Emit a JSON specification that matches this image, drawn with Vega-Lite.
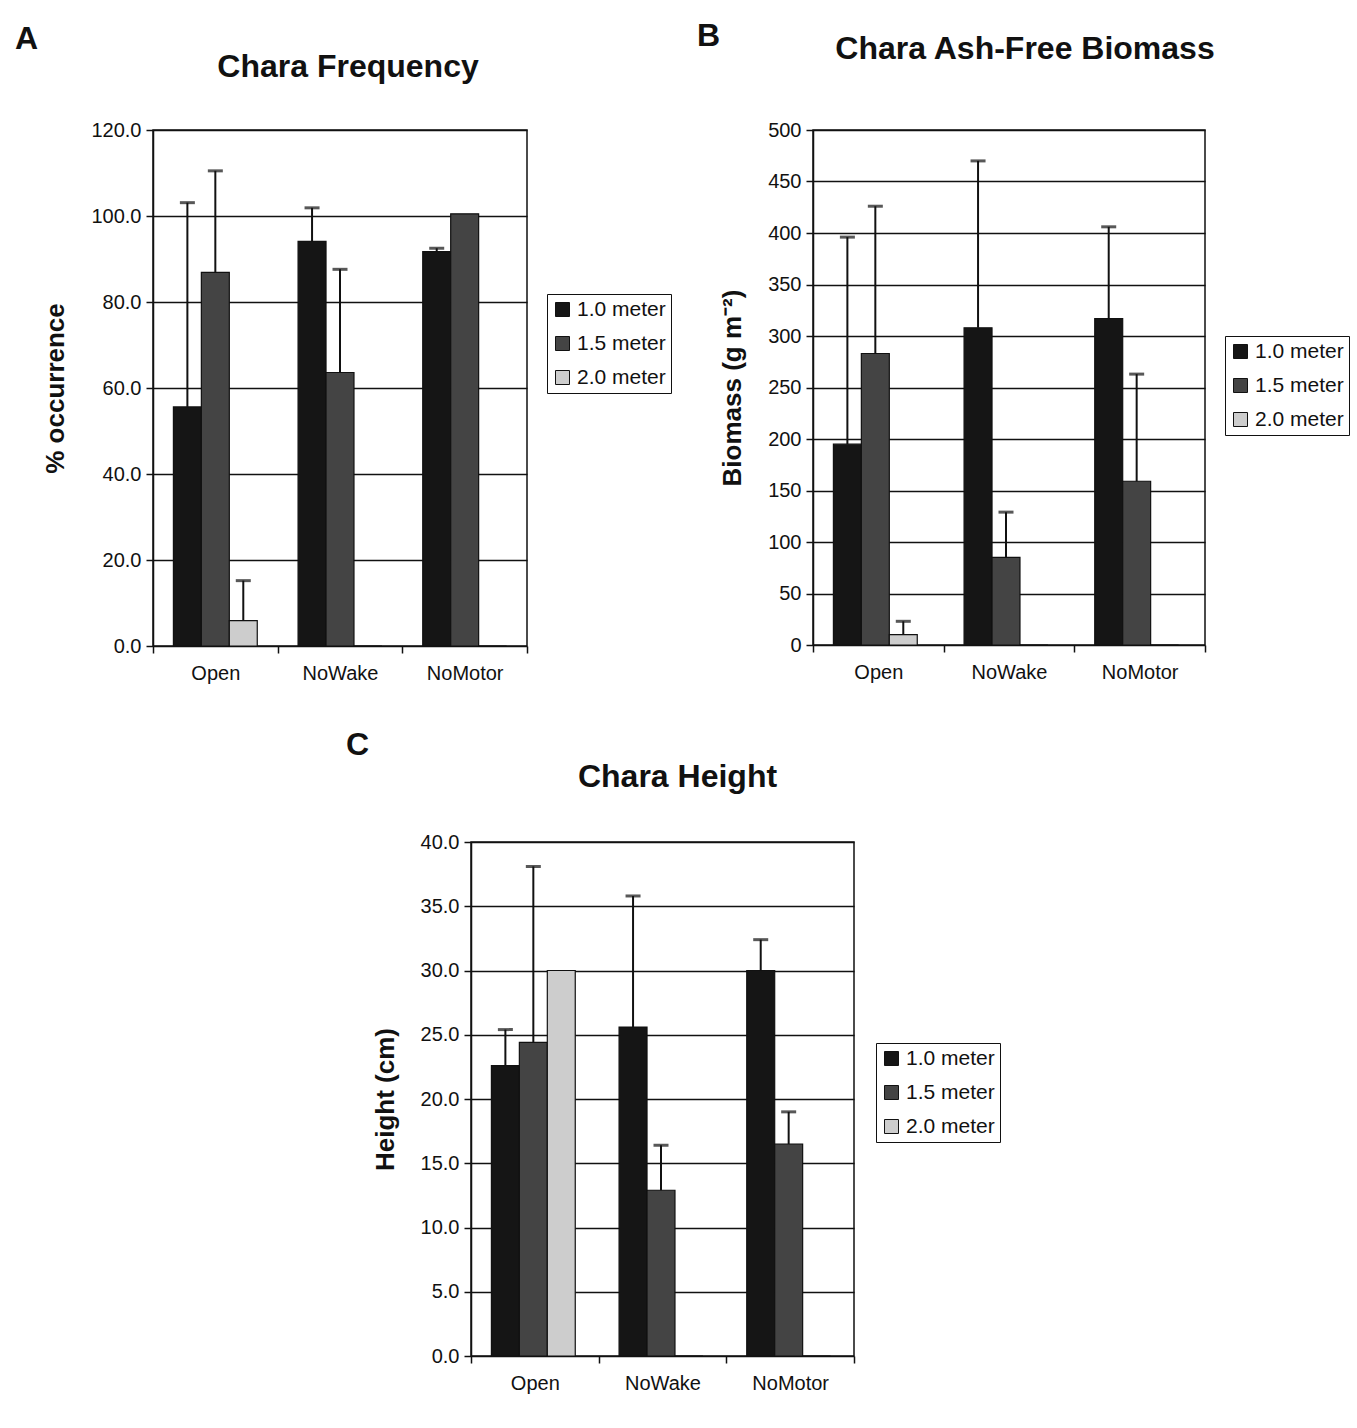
{
  "$schema": "https://vega.github.io/schema/vega-lite/v6.json",
  "background": "white",
  "padding": {"left": 15, "top": 20, "right": 10, "bottom": 10},
  "datasets": {
    "freq": [
      {"site": "Open", "depth": "1.0 meter", "value": 55.6, "err": 103.1},
      {"site": "Open", "depth": "1.5 meter", "value": 86.9, "err": 110.5},
      {"site": "Open", "depth": "2.0 meter", "value": 5.9, "err": 15.2},
      {"site": "NoWake", "depth": "1.0 meter", "value": 94.1, "err": 101.9},
      {"site": "NoWake", "depth": "1.5 meter", "value": 63.6, "err": 87.6},
      {"site": "NoWake", "depth": "2.0 meter", "value": 0, "err": null},
      {"site": "NoMotor", "depth": "1.0 meter", "value": 91.7, "err": 92.5},
      {"site": "NoMotor", "depth": "1.5 meter", "value": 100.5, "err": null},
      {"site": "NoMotor", "depth": "2.0 meter", "value": 0, "err": null}
    ],
    "bio": [
      {"site": "Open", "depth": "1.0 meter", "value": 195, "err": 396},
      {"site": "Open", "depth": "1.5 meter", "value": 283, "err": 426},
      {"site": "Open", "depth": "2.0 meter", "value": 10, "err": 23},
      {"site": "NoWake", "depth": "1.0 meter", "value": 308, "err": 470},
      {"site": "NoWake", "depth": "1.5 meter", "value": 85, "err": 129},
      {"site": "NoWake", "depth": "2.0 meter", "value": 0, "err": null},
      {"site": "NoMotor", "depth": "1.0 meter", "value": 317, "err": 406},
      {"site": "NoMotor", "depth": "1.5 meter", "value": 159, "err": 263},
      {"site": "NoMotor", "depth": "2.0 meter", "value": 0, "err": null}
    ],
    "height": [
      {"site": "Open", "depth": "1.0 meter", "value": 22.6, "err": 25.4},
      {"site": "Open", "depth": "1.5 meter", "value": 24.4, "err": 38.1},
      {"site": "Open", "depth": "2.0 meter", "value": 30.0, "err": null},
      {"site": "NoWake", "depth": "1.0 meter", "value": 25.6, "err": 35.8},
      {"site": "NoWake", "depth": "1.5 meter", "value": 12.9, "err": 16.4},
      {"site": "NoWake", "depth": "2.0 meter", "value": 0, "err": null},
      {"site": "NoMotor", "depth": "1.0 meter", "value": 30.0, "err": 32.4},
      {"site": "NoMotor", "depth": "1.5 meter", "value": 16.5, "err": 19.0},
      {"site": "NoMotor", "depth": "2.0 meter", "value": 0, "err": null}
    ]
  },
  "config": {
    "font": "Liberation Sans",
    "view": {"stroke": "#111", "strokeWidth": 1.5},
    "title": {"color": "#111", "fontWeight": "bold"},
    "axis": {
      "labelFont": "Liberation Sans", "labelFontSize": 20, "labelColor": "#111",
      "titleFont": "Liberation Sans", "titleFontSize": 26, "titleFontWeight": "bold", "titleColor": "#111",
      "domainColor": "#111", "domainWidth": 1.5, "tickColor": "#111", "tickWidth": 1.5, "tickSize": 7,
      "gridColor": "#111", "gridWidth": 1.3, "gridOpacity": 1
    },
    "legend": {
      "labelFont": "Liberation Sans", "labelFontSize": 21, "labelColor": "#111",
      "strokeColor": "#111", "padding": 5, "rowPadding": 12,
      "symbolType": "square", "symbolSize": 196, "symbolStrokeColor": "#111", "symbolStrokeWidth": 1,
      "labelOffset": 4, "title": null
    }
  },
  "vconcat": [
    {
      "hconcat": [
        {
          "title": {"text": "A", "anchor": "start", "frame": "group", "fontSize": 32, "dx": -138, "offset": -6},
          "vconcat": [
            {
              "width": 374, "height": 516,
              "title": {"text": "Chara Frequency", "fontSize": 32, "offset": 36, "dx": 8},
              "data": {"name": "freq"},
              "encoding": {
                "x": {"field": "site", "type": "nominal", "sort": ["Open", "NoWake", "NoMotor"],
                      "scale": {"paddingInner": 0, "paddingOuter": 0},
                      "axis": {"title": null, "labelAngle": 0, "domain": false, "tickBand": "extent", "labelPadding": 10}},
                "xOffset": {"field": "depth", "type": "nominal", "sort": ["1.0 meter", "1.5 meter", "2.0 meter"],
                            "scale": {"paddingInner": 0, "paddingOuter": 0.73}}
              },
              "layer": [
                {
                  "mark": {"type": "bar", "stroke": "#111", "strokeWidth": 1.2},
                  "encoding": {
                    "y": {"field": "value", "type": "quantitative", "scale": {"domain": [0, 120]},
                          "axis": {"title": "% occurrence", "values": [0, 20, 40, 60, 80, 100, 120], "format": ".1f", "grid": true, "labelPadding": 5, "titlePadding": 22}},
                    "color": {"field": "depth", "type": "nominal",
                              "scale": {"domain": ["1.0 meter", "1.5 meter", "2.0 meter"], "range": ["#151515", "#444444", "#cdcdcd"]},
                              "legend": {"orient": "none", "legendX": 394, "legendY": 164}}
                  }
                },
                {
                  "transform": [{"filter": "isValid(datum.err)"}],
                  "mark": {"type": "rule", "color": "#111", "strokeWidth": 2},
                  "encoding": {"y": {"field": "value", "type": "quantitative"}, "y2": {"field": "err"}}
                },
                {
                  "transform": [{"filter": "isValid(datum.err)"}],
                  "mark": {"type": "tick", "color": "#111", "size": 15, "thickness": 3},
                  "encoding": {"y": {"field": "err", "type": "quantitative"}}
                }
              ]
            }
          ],
          "resolve": {"scale": {"color": "independent"}, "legend": {"color": "independent"}}
        },
        {
          "title": {"text": "B", "anchor": "start", "frame": "group", "fontSize": 32, "dx": -116, "offset": -21},
          "vconcat": [
            {
              "width": 392, "height": 515,
              "title": {"text": "Chara Ash-Free Biomass", "fontSize": 32, "offset": 54, "dx": 16},
              "data": {"name": "bio"},
              "encoding": {
                "x": {"field": "site", "type": "nominal", "sort": ["Open", "NoWake", "NoMotor"],
                      "scale": {"paddingInner": 0, "paddingOuter": 0},
                      "axis": {"title": null, "labelAngle": 0, "domain": false, "tickBand": "extent", "labelPadding": 10}},
                "xOffset": {"field": "depth", "type": "nominal", "sort": ["1.0 meter", "1.5 meter", "2.0 meter"],
                            "scale": {"paddingInner": 0, "paddingOuter": 0.73}}
              },
              "layer": [
                {
                  "mark": {"type": "bar", "stroke": "#111", "strokeWidth": 1.2},
                  "encoding": {
                    "y": {"field": "value", "type": "quantitative", "scale": {"domain": [0, 500]},
                          "axis": {"title": "Biomass (g m⁻²)", "values": [0, 50, 100, 150, 200, 250, 300, 350, 400, 450, 500], "format": "d", "grid": true, "labelPadding": 5, "titlePadding": 22}},
                    "color": {"field": "depth", "type": "nominal",
                              "scale": {"domain": ["1.0 meter", "1.5 meter", "2.0 meter"], "range": ["#151515", "#444444", "#cdcdcd"]},
                              "legend": {"orient": "none", "legendX": 412, "legendY": 206}}
                  }
                },
                {
                  "transform": [{"filter": "isValid(datum.err)"}],
                  "mark": {"type": "rule", "color": "#111", "strokeWidth": 2},
                  "encoding": {"y": {"field": "value", "type": "quantitative"}, "y2": {"field": "err"}}
                },
                {
                  "transform": [{"filter": "isValid(datum.err)"}],
                  "mark": {"type": "tick", "color": "#111", "size": 15, "thickness": 3},
                  "encoding": {"y": {"field": "err", "type": "quantitative"}}
                }
              ]
            }
          ],
          "resolve": {"scale": {"color": "independent"}, "legend": {"color": "independent"}}
        }
      ],
      "spacing": 24,
      "resolve": {"scale": {"color": "independent"}, "legend": {"color": "independent"}}
    },
    {
      "hconcat": [
        {
          "width": 183, "height": 10,
          "data": {"values": []},
          "mark": "point",
          "view": {"stroke": null}
        },
        {
          "title": {"text": "C", "anchor": "start", "frame": "group", "fontSize": 32, "dx": -125, "offset": -2},
          "vconcat": [
            {
              "width": 383, "height": 514,
              "title": {"text": "Chara Height", "fontSize": 32, "offset": 38, "dx": 15},
              "data": {"name": "height"},
              "encoding": {
                "x": {"field": "site", "type": "nominal", "sort": ["Open", "NoWake", "NoMotor"],
                      "scale": {"paddingInner": 0, "paddingOuter": 0},
                      "axis": {"title": null, "labelAngle": 0, "domain": false, "tickBand": "extent", "labelPadding": 10}},
                "xOffset": {"field": "depth", "type": "nominal", "sort": ["1.0 meter", "1.5 meter", "2.0 meter"],
                            "scale": {"paddingInner": 0, "paddingOuter": 0.73}}
              },
              "layer": [
                {
                  "mark": {"type": "bar", "stroke": "#111", "strokeWidth": 1.2},
                  "encoding": {
                    "y": {"field": "value", "type": "quantitative", "scale": {"domain": [0, 40]},
                          "axis": {"title": "Height (cm)", "values": [0, 5, 10, 15, 20, 25, 30, 35, 40], "format": ".1f", "grid": true, "labelPadding": 5, "titlePadding": 22}},
                    "color": {"field": "depth", "type": "nominal",
                              "scale": {"domain": ["1.0 meter", "1.5 meter", "2.0 meter"], "range": ["#151515", "#444444", "#cdcdcd"]},
                              "legend": {"orient": "none", "legendX": 405, "legendY": 201}}
                  }
                },
                {
                  "transform": [{"filter": "isValid(datum.err)"}],
                  "mark": {"type": "rule", "color": "#111", "strokeWidth": 2},
                  "encoding": {"y": {"field": "value", "type": "quantitative"}, "y2": {"field": "err"}}
                },
                {
                  "transform": [{"filter": "isValid(datum.err)"}],
                  "mark": {"type": "tick", "color": "#111", "size": 15, "thickness": 3},
                  "encoding": {"y": {"field": "err", "type": "quantitative"}}
                }
              ]
            }
          ],
          "resolve": {"scale": {"color": "independent"}, "legend": {"color": "independent"}}
        }
      ],
      "spacing": 10,
      "resolve": {"scale": {"color": "independent"}, "legend": {"color": "independent"}}
    }
  ],
  "spacing": 45,
  "resolve": {"scale": {"color": "independent"}, "legend": {"color": "independent"}}
}
